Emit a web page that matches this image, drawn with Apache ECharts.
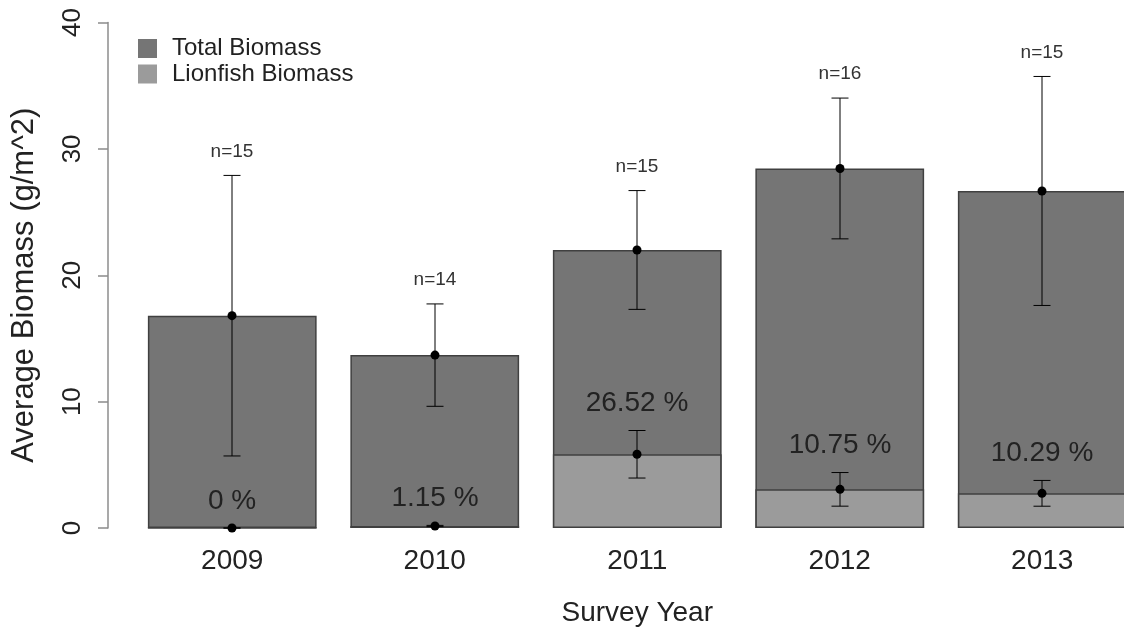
<!DOCTYPE html>
<html>
<head>
<meta charset="utf-8">
<script src="https://cdn.jsdelivr.net/npm/echarts@6/dist/echarts.min.js"></script>
<style>
  html, body { margin: 0; padding: 0; background: #ffffff; overflow: hidden; }
  /* the plot runs past the right edge of the window, so the canvas is a bit wider */
  #chart { width: 1150px; height: 632px; }
</style>
</head>
<body>
<div id="chart"></div>
<script>
// Survey years and mean biomass per year (g/m^2)
const years = ['2009', '2010', '2011', '2012', '2013'];
const totalBiomass = [16.8, 13.68, 22.0, 28.45, 26.67];
const lionfishBiomass = [0, 0.157, 5.834, 3.058, 2.744];
// Error bar half-widths
const totalErr = [11.1, 4.05, 4.7, 5.57, 9.06];
const lionfishErr = [0, 0.05, 1.88, 1.33, 1.02];
// Number of surveys per year
const sampleSizes = [15, 14, 15, 16, 15];
const yTicks = [0, 10, 20, 30, 40];

const FONT = '"Liberation Sans", Arial, sans-serif';
const TEXT = '#222222';

function pctLabel(i) {
  const p = Math.round(lionfishBiomass[i] / totalBiomass[i] * 10000) / 100;
  return String(p) + ' %';
}

function errorBarItem(labelFn, labelGap, labelSize, labelColor) {
  return function (params, api) {
    const i = api.value(0);
    const mid = api.coord([i, api.value(1)]);
    const lo = api.coord([i, api.value(2)]);
    const hi = api.coord([i, api.value(3)]);
    const cx = Math.round(mid[0]);
    const hw = 8.5;
    const lineStyle = { stroke: '#000000', lineWidth: 1 };
    return {
      type: 'group',
      children: [
        { type: 'line', shape: { x1: cx, y1: hi[1], x2: cx, y2: lo[1] }, style: lineStyle },
        { type: 'line', shape: { x1: cx - hw, y1: hi[1], x2: cx + hw, y2: hi[1] }, style: lineStyle },
        { type: 'line', shape: { x1: cx - hw, y1: lo[1], x2: cx + hw, y2: lo[1] }, style: lineStyle },
        { type: 'circle', shape: { cx: cx, cy: mid[1], r: 4.5 }, style: { fill: '#000000' } },
        {
          type: 'text',
          x: cx, y: hi[1] - labelGap,
          style: {
            text: labelFn(i), fill: labelColor, font: labelSize + 'px ' + FONT,
            align: 'center', verticalAlign: 'middle'
          }
        }
      ]
    };
  };
}

const totalErrData = years.map((y, i) => [i, totalBiomass[i], totalBiomass[i] - totalErr[i], totalBiomass[i] + totalErr[i]]);
const lionErrData = years.map((y, i) => [i, lionfishBiomass[i], Math.max(0, lionfishBiomass[i] - lionfishErr[i]), lionfishBiomass[i] + lionfishErr[i]]);

const chart = echarts.init(document.getElementById('chart'), null, { renderer: 'canvas' });
chart.setOption({
  animation: false,
  backgroundColor: '#ffffff',
  textStyle: { fontFamily: FONT, color: TEXT },
  grid: { left: 131, top: 22.5, width: 1012.5, height: 507.5 },
  legend: {
    orient: 'vertical',
    left: 138, top: 36.5,
    padding: 0,
    icon: 'rect',
    itemWidth: 19, itemHeight: 19, itemGap: 1.5,
    itemStyle: { borderWidth: 0 },
    textStyle: { fontSize: 24, color: TEXT, padding: [0, 0, 0, 10] },
    data: ['Total Biomass', 'Lionfish Biomass']
  },
  xAxis: {
    type: 'category',
    data: years,
    axisLine: { show: false },
    axisTick: { show: false },
    axisLabel: { fontSize: 28, color: TEXT, margin: 19 },
    name: 'Survey Year',
    nameLocation: 'middle',
    nameGap: 71,
    nameTextStyle: { fontSize: 28, color: TEXT }
  },
  yAxis: {
    type: 'value',
    min: yTicks[0], max: yTicks[yTicks.length - 1], interval: 10,
    offset: 23,
    splitLine: { show: false },
    axisLine: { show: true, lineStyle: { color: '#8c8c8c', width: 1.5 } },
    axisTick: { show: true, length: 10, lineStyle: { color: '#8c8c8c', width: 1.5 } },
    axisLabel: { fontSize: 26, color: TEXT, rotate: 90, margin: 22 },
    name: 'Average Biomass (g/m^2)',
    nameLocation: 'middle',
    nameRotate: 90,
    nameGap: 68,
    nameTextStyle: { fontSize: 31, color: TEXT, padding: [0, 20, 0, 0] }
  },
  series: [
    {
      name: 'Total Biomass',
      type: 'bar',
      data: totalBiomass,
      barWidth: 168.75,
      barGap: '-100%',
      itemStyle: { color: '#757575', borderColor: '#404040', borderWidth: 1.5 },
      z: 1
    },
    {
      name: 'Lionfish Biomass',
      type: 'bar',
      data: lionfishBiomass,
      barWidth: 168.75,
      barGap: '-100%',
      itemStyle: { color: '#9b9b9b', borderColor: '#404040', borderWidth: 1.5 },
      z: 2
    },
    {
      type: 'custom',
      data: totalErrData,
      renderItem: errorBarItem(i => 'n=' + sampleSizes[i], 24, 19, '#333333'),
      z: 5
    },
    {
      type: 'custom',
      data: lionErrData,
      renderItem: errorBarItem(pctLabel, 27, 28, TEXT),
      z: 5
    }
  ]
});
</script>
</body>
</html>
